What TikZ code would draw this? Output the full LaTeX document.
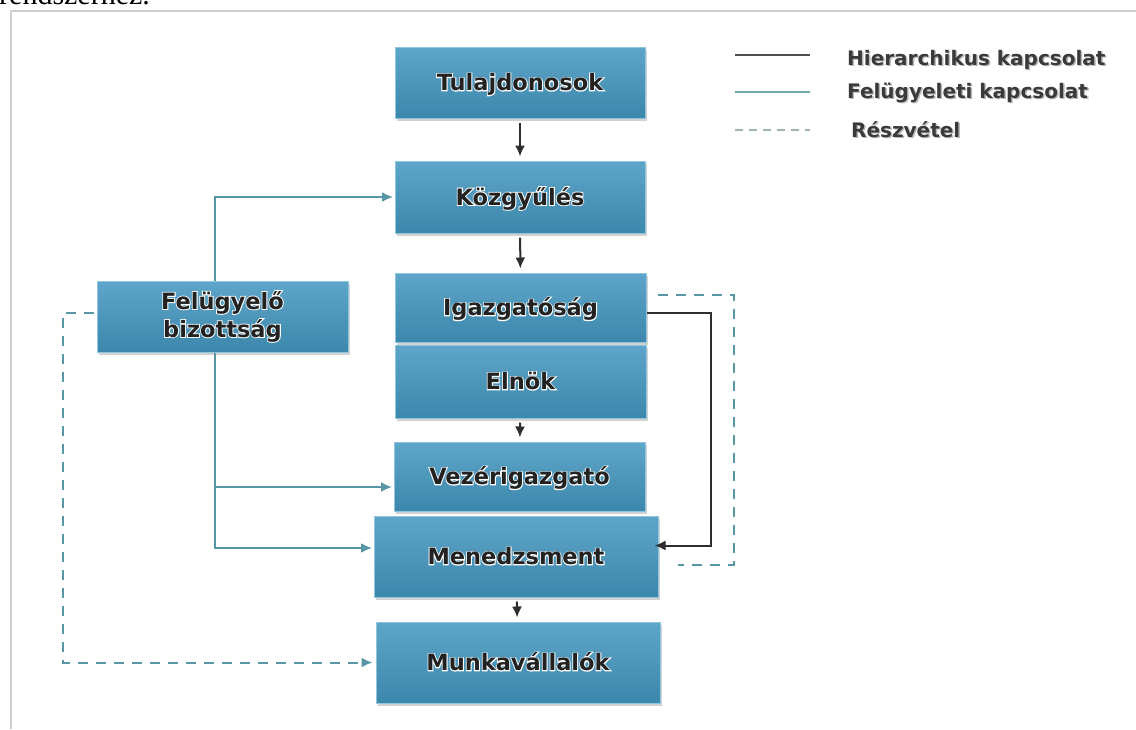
\documentclass[tikz,border=0pt]{standalone}
\usepackage{fontspec}
\newfontfamily\labelfont{DejaVu Sans}
\newfontface\halofont{DejaVu Sans Bold}[FakeBold=8]
\newfontfamily\pagefont{Liberation Serif}
\usetikzlibrary{arrows.meta,shadows,calc}

\definecolor{boxtop}{HTML}{5EA6C9}
\definecolor{boxbot}{HTML}{3C87AC}
\definecolor{boxedge}{HTML}{8FC6DE}
\definecolor{supline}{HTML}{5896A6}
\definecolor{hierline}{HTML}{2E2E2E}
\definecolor{boxtext}{HTML}{222222}
\definecolor{legtext}{HTML}{3A3A3A}
\definecolor{framecol}{HTML}{CFCFCF}
\definecolor{legsup}{HTML}{6FA8AA}
\definecolor{legpart}{HTML}{9FB5B5}

% white halo around box labels: an emboldened white copy under the text
\newcommand\glow[1]{\rlap{\color{white}\halofont #1}#1}
% soft grey shadow behind legend labels
\newcommand\dropshade[1]{{\setbox0\hbox{#1}%
 \rlap{\color{black!28}\kern1.5pt\lower1.5pt\copy0}\box0}}

\tikzset{
  unitbox/.style={rectangle, draw=boxedge, line width=1pt,
    top color=boxtop, bottom color=boxbot, text=boxtext,
    font=\labelfont\bfseries\fontsize{22.5}{28}\selectfont,
    align=center, inner sep=0pt,
    drop shadow={shadow xshift=2pt, shadow yshift=-3pt, opacity=0.18, fill=black}},
  unit/.style={unitbox, text height=16pt, text depth=0pt},
  tip/.style={-{Latex[length=11pt,width=10pt]}},
  hier/.style={draw=hierline, line width=2pt, tip, shorten <=4pt, shorten >=4pt},
  sup/.style={draw=supline, line width=2pt},
  suparrow/.style={sup, tip, shorten >=1.5pt},
  part/.style={draw=supline, line width=2pt, dash pattern=on 10pt off 8pt},
  legend/.style={anchor=base west, inner sep=0pt, text=legtext,
    font=\labelfont\bfseries\fontsize{20}{24}\selectfont},
}

\begin{document}
\begin{tikzpicture}[x=1pt,y=-1pt]
\useasboundingbox (0,0) rectangle (1136,729);
\fill[white] (0,0) rectangle (1136,729);

% page text above the frame
\node[anchor=base west, inner sep=0pt, font=\pagefont\fontsize{30}{32}\selectfont]
  (pagetext) at (-1,4.5) {rendszerhez.};

% frame
\draw[framecol, line width=2pt] (11,729) -- (11,11) -- (1136,11);

% organisation units
\node[unit, minimum width=250pt, minimum height=71pt] (tul)  at (520,82.5)  {\glow{Tulajdonosok}};
\node[unit, minimum width=250pt, minimum height=72pt] (koz)  at (520,197)   {\glow{Közgyűlés}};
\node[unit, minimum width=251pt, minimum height=69pt] (igaz) at (520.5,307.5) {\glow{Igazgatóság}};
\node[unit, minimum width=251pt, minimum height=73pt] (eln)  at (520.5,381.5) {\glow{Elnök}};
\node[unit, minimum width=251pt, minimum height=69pt] (vez)  at (519.5,476.5) {\glow{Vezérigazgató}};
\node[unit, minimum width=284pt, minimum height=81pt] (men)  at (516,556.5) {\glow{Menedzsment}};
\node[unit, minimum width=284pt, minimum height=81pt] (mun)  at (518,662.5) {\glow{Munkavállalók}};
\node[unitbox, minimum width=251pt, minimum height=71pt] (fel) at (222.5,316.5)
  {\glow{Felügyelő}\\\glow{bizottság}};

% hierarchical links
\draw[hier] (tul) -- (koz);
\draw[hier] (koz) -- (igaz);
\draw[hier] (eln) -- (vez);
\draw[hier] (men) -- (mun);
\draw[hier, shorten <=0pt, shorten >=-4pt]
  ($(igaz.east)+(0,5)$) -- ++(64,0) |- ($(men.east)+(0,-11)$);

% supervisory links
\coordinate (sj) at (215,0);
\coordinate (vezin) at ($(vez.west)+(0,10.5)$);
\coordinate (menin) at ($(men.west)+(0,-8.5)$);
\draw[suparrow] (fel.north -| sj) |- (koz.west);
\draw[suparrow] (fel.south -| sj) |- (menin);
\draw[suparrow] (sj |- vezin) -- (vezin);

% participation
\draw[part, tip, shorten >=3pt]
  ($(fel.west)+(-3,-3.5)$) -- ++(-31,0) |- (mun.west);
\draw[part] ($(igaz.north east)+(11,22)$) -- ++(76,0) |- ($(men.east)+(19,8.5)$);

% legend
\coordinate (l1a) at (735,55);  \coordinate (l1b) at (810,55);
\coordinate (l2a) at (735,92);  \coordinate (l2b) at (810,92);
\coordinate (l3a) at (735,130); \coordinate (l3b) at (810,130);
\draw[draw=hierline!85, line width=2pt] (l1a) -- (l1b);
\draw[draw=legsup, line width=2pt] (l2a) -- (l2b);
\draw[draw=legpart, line width=2pt, dash pattern=on 8pt off 6pt] (l3a) -- (l3b);
\node[legend] (lt1) at (847,65)  {\dropshade{Hierarchikus kapcsolat}};
\node[legend] (lt2) at (847,98)  {\dropshade{Felügyeleti kapcsolat}};
\node[legend] (lt3) at (851,137) {\dropshade{Részvétel}};
\end{tikzpicture}
\end{document}
